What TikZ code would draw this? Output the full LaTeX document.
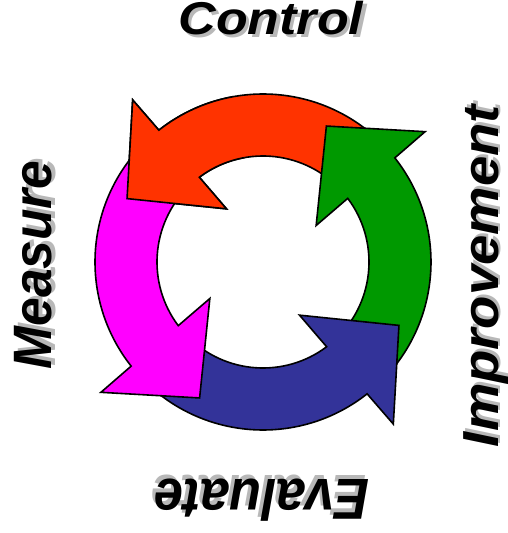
\documentclass[tikz,border=0pt]{standalone}
\usepackage{fontspec}
\setmainfont{Liberation Sans}
\definecolor{arrowred}{HTML}{FF3300}
\definecolor{arrowgreen}{HTML}{009900}
\definecolor{arrowblue}{HTML}{333399}
\definecolor{arrowmagenta}{HTML}{FF00FF}
\definecolor{shadowgray}{HTML}{B8B8B8}

% One quarter of the ring, turned by #1 degrees, filled with colour #2
\newcommand{\cyclearrow}[2]{%
  \path[ringarrow, fill=#2]
    ({45+#1}:168) arc[start angle={45+#1}, end angle={128.3+#1}, radius=168]
    -- ({128.8+#1}:208) -- ({155+#1}:150) -- ({124.5+#1}:64.5)
    -- ({126.9+#1}:106) arc[start angle={126.9+#1}, end angle={45+#1}, radius=106]
    -- cycle;}

\begin{document}
\begin{tikzpicture}[x=1pt, y=1pt,
  ringarrow/.style={draw=black, line width=1.6pt, line join=miter},
  lbl/.style={font=\bfseries\itshape\fontsize{#1}{#1}\selectfont,
    inner sep=0pt, anchor=base, transform shape},
  lblshadow/.style={text=shadowgray}]
\useasboundingbox (-263,-271) rectangle (244,262);

% the four arrows around the ring
\cyclearrow{0}{arrowred}
\cyclearrow{-90}{arrowgreen}
\cyclearrow{180}{arrowblue}
\cyclearrow{90}{arrowmagenta}

% red head laid again over the magenta tail
\fill[arrowred] (100:168) arc[start angle=100, end angle=128.3, radius=168]
  -- (128.8:208) -- (155:150) -- (124.5:64.5)
  -- (126.9:106) arc[start angle=126.9, end angle=100, radius=106] -- cycle;
\draw[ringarrow] (100:168) arc[start angle=100, end angle=128.3, radius=168]
  -- (128.8:208) -- (155:150) -- (124.5:64.5)
  -- (126.9:106) arc[start angle=126.9, end angle=100, radius=106];

% labels with their grey shadows
\begin{scope}[shift={(8,227)}, xscale=1.04, yscale=0.92]
  \node[lbl=50, lblshadow] (controlshadow) at (3,-3) {Control};
  \node[lbl=50] (control) at (0,0) {Control};
\end{scope}
\begin{scope}[shift={(-1,-217)}, rotate=180, yscale=1.1]
  \node[lbl=52.5, lblshadow] (evaluateshadow) at (3,-3) {Evaluate};
  \node[lbl=52.5] (evaluate) at (0,0) {Evaluate};
\end{scope}
\begin{scope}[shift={(-211,-3)}, rotate=90, yscale=1.05]
  \node[lbl=51.5, lblshadow] (measureshadow) at (3,-3) {Measure};
  \node[lbl=51.5] (measure) at (0,0) {Measure};
\end{scope}
\begin{scope}[shift={(235,-14)}, rotate=90, yscale=0.93]
  \node[lbl=54.5, lblshadow] (improvementshadow) at (3,-3) {Improvement};
  \node[lbl=54.5] (improvement) at (0,0) {Improvement};
\end{scope}
\end{tikzpicture}
\end{document}
